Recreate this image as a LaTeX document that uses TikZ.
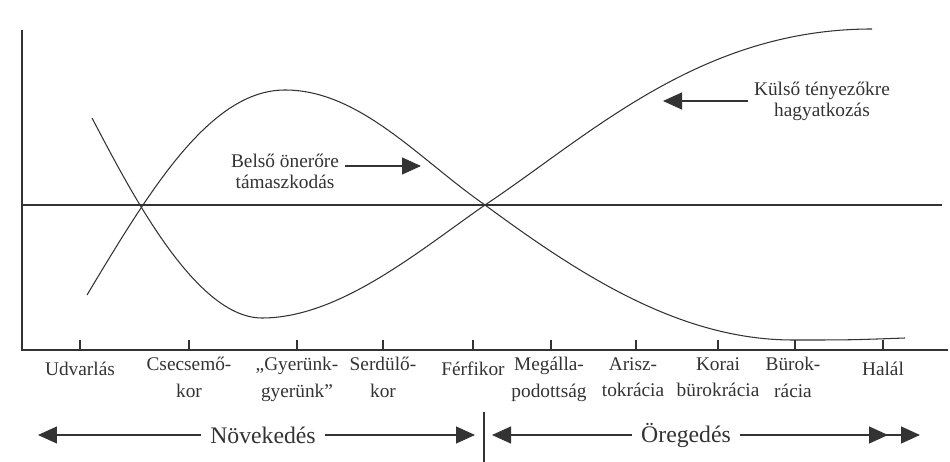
\documentclass[tikz,border=0pt]{standalone}
\usepackage{fontspec}
\setmainfont{Liberation Serif}
\usetikzlibrary{arrows.meta}

\begin{document}
\begin{tikzpicture}[x=0.02cm, y=-0.02cm, line width=0.6pt, color=black!80,
    stage/.style={anchor=north, align=center, inner sep=0pt, execute at begin node=\strut,
        font=\fontsize{11}{15}\selectfont},
    note/.style={align=center, font=\fontsize{11}{12}\selectfont},
    phase/.style={font=\fontsize{13.5}{15}\selectfont, inner sep=5pt},
    tri/.style={-{Triangle[length=0.38cm,width=0.34cm]}}]
    \useasboundingbox (0,0) rectangle (950,462);

    % axes and middle line
    \draw (22,30) -- (22,350) -- (948,350);
    \draw (22,205) -- (942,205);

    % ticks and stage names
    \foreach \x in {80,189,297,383,473,551,636,718,795,883} \draw (\x,340) -- (\x,350);
    \foreach \x/\t [count=\i] in {80/Udvarlás, 189/{Csecsemő-\\kor}, 297/{„Gyerünk-\\gyerünk”},
        383/{Serdülő-\\kor}, 473/Férfikor, 549/{Megálla-\\podottság}, 633/{Arisz-\\tokrácia},
        718/{Korai\\bürokrácia}, 793/{Bürok-\\rácia}, 883/Halál}
        \node[stage] (st\i) at (\x,357) {\t};

    % Külső tényezőkre hagyatkozás
    \draw (92,118) .. controls (130,190) and (195,318) .. (262,318)
        .. controls (340,318) and (420,250) .. (485,205)
        .. controls (590,135) and (700,29) .. (872,29);
    % Belső önerőre támaszkodás
    \draw (87,295) .. controls (150,190) and (210,90) .. (285,90)
        .. controls (360,90) and (420,160) .. (485,205)
        .. controls (580,275) and (680,340) .. (793,340)
        .. controls (850,340) .. (905,338);

    \node[note] (belso) at (285,171) {Belső önerőre\\támaszkodás};
    \coordinate (belsoTip) at (421,166);
    \draw[tri] (belso.east |- belsoTip) -- (belsoTip);

    \node[note] (kulso) at (822,101) {Külső tényezőkre\\hagyatkozás};
    \coordinate (kulsoTip) at (663,101);
    \draw[tri] (kulso.west |- kulsoTip) -- (kulsoTip);

    % Növekedés / Öregedés
    \draw (484,412) -- (484,462);
    \node[phase] (nov) at (263,435) {Növekedés};
    \coordinate (novL) at (38,435);
    \coordinate (novR) at (475,435);
    \draw[tri] (nov) -- (novL);
    \draw[tri] (nov) -- (novR);

    \node[phase] (oreg) at (686,435) {Öregedés};
    \coordinate (oregL) at (492,435);
    \coordinate (oregR) at (888,435);
    \coordinate (oregRR) at (920,435);
    \draw[tri] (oreg) -- (oregL);
    \draw[tri] (oreg) -- (oregRR);
    \draw[tri] (oreg) -- (oregR);

\end{tikzpicture}
\end{document}
